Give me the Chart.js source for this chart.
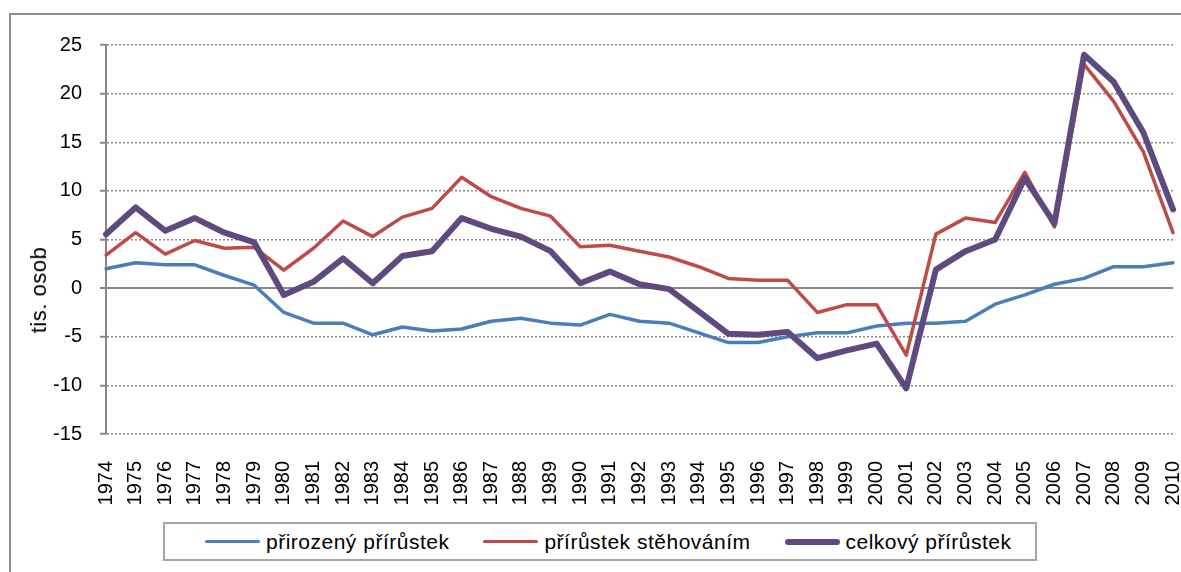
<!DOCTYPE html>
<html lang="cs">
<head>
<meta charset="utf-8">
<title>Přírůstek obyvatel</title>
<script src="https://cdn.jsdelivr.net/npm/chart.js"></script>
<style>
    html, body { margin: 0; padding: 0; background: #fff; overflow: hidden; }
    #wrap { position: relative; width: 1181px; height: 572px; overflow: hidden; }
    #frame { position: absolute; left: 9px; top: 13px; width: 1300px; height: 700px; border: 2px solid #8f8f8f; box-sizing: border-box; }
    #chart { position: absolute; left: 0; top: 0; }
    #ytitle {
        position: absolute; left: 39px; top: 290px;
        transform: translate(-50%, -50%) rotate(-90deg);
        font: 22px "Liberation Sans", Arial, sans-serif; letter-spacing: 0.5px;
        color: #000; white-space: nowrap;
    }
    #legend {
        position: absolute; left: 163px; top: 522px; width: 874px; height: 39px;
        box-sizing: border-box; border: 2px solid #a6a6a6; background: #fff;
        display: flex; align-items: center; padding-left: 40px;
        font: 21px "Liberation Sans", Arial, sans-serif; letter-spacing: 0.5px; color: #000;
    }
    #legend .item { display: flex; align-items: center; margin-right: 34px; white-space: nowrap; }
    #legend .swatch { width: 55px; margin-right: 6px; border-radius: 3px; }
</style>
</head>
<body>
<div id="wrap">
    <div id="frame"></div>
    <canvas id="chart" width="1224" height="572"></canvas>
    <div id="ytitle">tis. osob</div>
    <div id="legend"></div>
</div>
<script>
// data (tis. osob)
const years = [
    "1974", "1975", "1976", "1977", "1978", "1979", "1980", "1981", "1982", "1983",
    "1984", "1985", "1986", "1987", "1988", "1989", "1990", "1991", "1992", "1993",
    "1994", "1995", "1996", "1997", "1998", "1999", "2000", "2001", "2002", "2003",
    "2004", "2005", "2006", "2007", "2008", "2009", "2010"
];
const prirozeny = [
    2.0, 2.6, 2.4, 2.4, 1.3, 0.3, -2.5, -3.6, -3.6, -4.8,
    -4.0, -4.4, -4.2, -3.4, -3.1, -3.6, -3.8, -2.7, -3.4, -3.6,
    -4.6, -5.6, -5.6, -5.0, -4.6, -4.6, -3.9, -3.6, -3.6, -3.4,
    -1.65, -0.7, 0.4, 1.0, 2.2, 2.2, 2.6
];
const stehovanim = [
    3.4, 5.7, 3.5, 4.9, 4.1, 4.2, 1.85, 4.1, 6.9, 5.3,
    7.3, 8.2, 11.4, 9.4, 8.2, 7.4, 4.25, 4.4, 3.8, 3.2,
    2.2, 1.0, 0.8, 0.8, -2.5, -1.7, -1.7, -6.9, 5.55, 7.2,
    6.75, 11.9, 6.3, 23.0, 19.2, 14.0, 5.7
];
const celkovy = [
    5.55, 8.3, 5.9, 7.2, 5.7, 4.7, -0.7, 0.65, 3.05, 0.5,
    3.3, 3.8, 7.2, 6.1, 5.3, 3.8, 0.5, 1.7, 0.4, -0.1,
    -2.4, -4.7, -4.8, -4.5, -7.2, -6.4, -5.7, -10.3, 1.9, 3.8,
    5.0, 11.3, 6.65, 24.0, 21.2, 16.0, 8.1
];
const seriesNames = ["přirozený přírůstek", "přírůstek stěhováním", "celkový přírůstek"];
const yMin = -15, yMax = 25, yStep = 5;

const font = "'Liberation Sans', Arial, sans-serif";
const gridGray = "#8a8a8a";

const chart = new Chart(document.getElementById("chart"), {
    type: "line",
    data: {
        labels: years,
        datasets: [
            { label: seriesNames[0], data: prirozeny, borderColor: "#4a7ebb", borderWidth: 3.5, order: 3 },
            { label: seriesNames[1], data: stehovanim, borderColor: "#be4b48", borderWidth: 3.5, order: 2 },
            { label: seriesNames[2], data: celkovy, borderColor: "#5e4a7e", borderWidth: 6, order: 1 }
        ]
    },
    options: {
        responsive: false,
        animation: false,
        layout: { padding: { left: 0, top: 45, right: 0, bottom: 0 } },
        elements: {
            line: { tension: 0, borderJoinStyle: "round", borderCapStyle: "round" },
            point: { radius: 0, hoverRadius: 0 }
        },
        plugins: {
            legend: { display: false },
            tooltip: { enabled: false }
        },
        scales: {
            x: {
                offset: false,
                grid: { display: false, drawTicks: false },
                border: { display: false },
                ticks: {
                    autoSkip: false, minRotation: 90, maxRotation: 90, padding: 27,
                    color: "#000", font: { family: font, size: 20 }
                },
                afterFit: (s) => { s.height = 138; }
            },
            y: {
                min: yMin,
                max: yMax,
                grid: {
                    color: (c) => (c.tick && c.tick.value === 0 ? "#868686" : gridGray),
                    lineWidth: (c) => (c.tick && c.tick.value === 0 ? 2 : 1.5),
                    tickLength: 6, tickWidth: 2, tickColor: "#868686"
                },
                border: {
                    display: true, color: "#868686", width: 2,
                    dash: (c) => (c.tick && c.tick.value !== 0 ? [2, 2] : [])
                },
                ticks: {
                    stepSize: yStep, padding: 18,
                    color: "#000", font: { family: font, size: 20 }
                },
                afterFit: (s) => { s.width = 106; }
            }
        }
    }
});

// legenda v rámečku (HTML)
const legend = document.getElementById("legend");
chart.data.datasets.forEach((ds) => {
    const item = document.createElement("div");
    item.className = "item";
    const sw = document.createElement("span");
    sw.className = "swatch";
    sw.style.height = ds.borderWidth + "px";
    sw.style.background = ds.borderColor;
    const txt = document.createElement("span");
    txt.textContent = ds.label;
    item.appendChild(sw);
    item.appendChild(txt);
    legend.appendChild(item);
});
</script>
</body>
</html>
